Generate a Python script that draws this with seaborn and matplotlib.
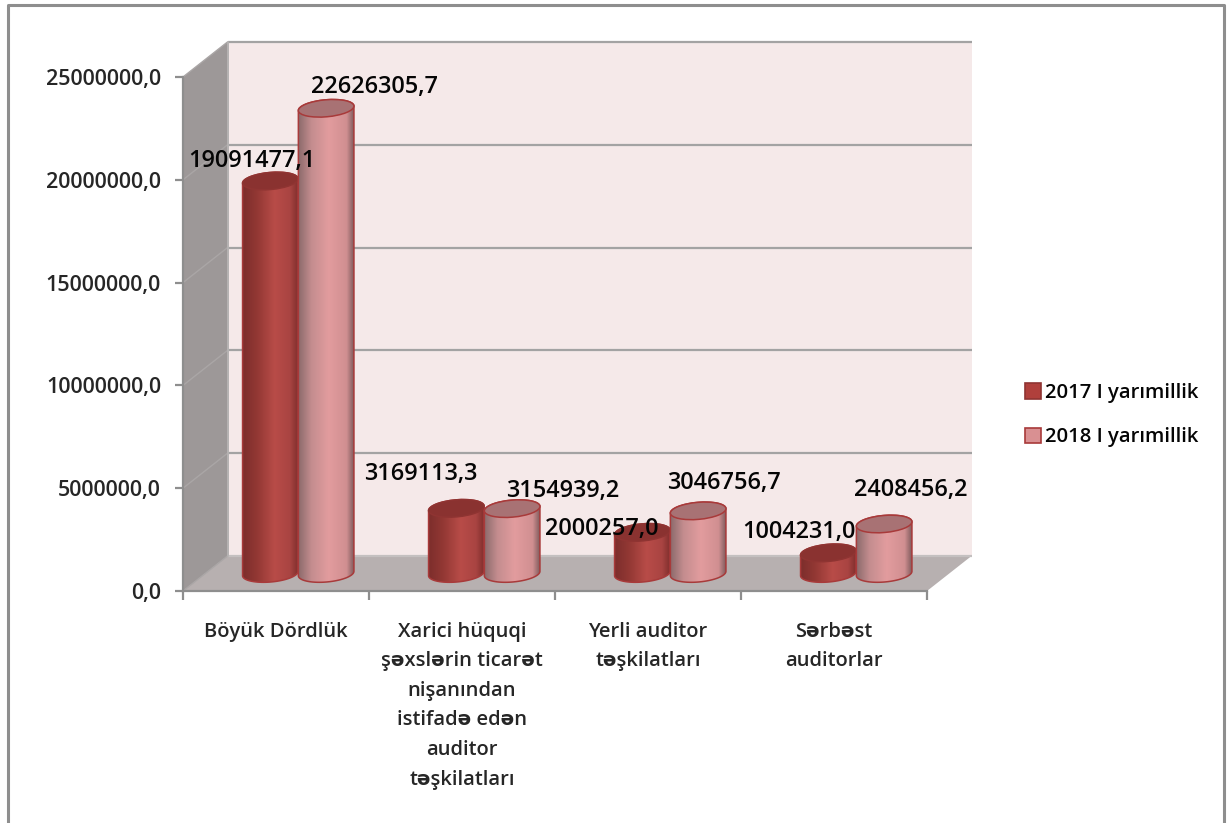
import numpy as np
import pandas as pd
import seaborn as sns
import matplotlib
matplotlib.use("Agg")
import matplotlib.pyplot as plt
from matplotlib.patches import Ellipse, Patch, PathPatch, Polygon, Rectangle
from matplotlib.path import Path
from matplotlib.lines import Line2D
from matplotlib.colors import LinearSegmentedColormap
from matplotlib.transforms import Affine2D, IdentityTransform

categories = ["Böyük Dördlük",
              "Xarici hüquqi\nşəxslərin ticarət\nnişanından\nistifadə edən\nauditor\ntəşkilatları",
              "Yerli auditor\ntəşkilatları",
              "Sərbəst\nauditorlar"]
series_names = ["2017 I yarımillik", "2018 I yarımillik"]
values_2017 = [19091477.1, 3169113.3, 2000257.0, 1004231.0]
values_2018 = [22626305.7, 3154939.2, 3046756.7, 2408456.2]
y_ticks = [0, 5000000, 10000000, 15000000, 20000000, 25000000]

# layout (pixel) helpers
W, H = 1227, 823
AX_L, AX_R, AX_T, AX_B = 183, 927, 77, 591
DX, DY = 44.5, 35
ELL_B, ELL_ANGLE = 8.5, 5.0
# offset of every value label from the top of its cylinder, (bar, group) order
LABEL_OFFSETS = {0: [(-18, 19.5), (-36, 34), (-41, 3), (-29, 21)],
                 1: [(48, 21), (51, 17.5), (26, 28), (27, 33.5)]}

FONT = "Open Sans"
GRAY = "#8e8e8e"
sns.set_theme(style="white")
plt.rcParams["font.family"] = [FONT, "DejaVu Sans"]
plt.rcParams["text.color"] = "#050505"

fig = plt.figure(figsize=(W / 100, H / 100), dpi=100, facecolor="white")
ax = fig.add_axes([AX_L / W, 1 - AX_B / H, (AX_R - AX_L) / W, (AX_B - AX_T) / H])

df = pd.DataFrame({
    "category": categories * 2,
    "period": [series_names[0]] * 4 + [series_names[1]] * 4,
    "value": values_2017 + values_2018,
})
sns.barplot(data=df, x="category", y="value", hue="period", order=categories,
            hue_order=series_names, width=0.6, gap=0, errorbar=None, legend=False,
            palette=["#b54a46", "#d99092"], ax=ax)

ax.set_xlim(-0.5, 3.5)
ax.set_ylim(0, 25000000)
ax.set_xlabel("")
ax.set_ylabel("")
ax.patch.set_visible(False)

# the bars seaborn drew, taken before anything else joins the axes
bars = sorted([b for b in ax.patches if b.get_height() > 0], key=lambda b: b.get_x())

# Walls and floor
depth = ax.transData + Affine2D().translate(DX, DY)
half = ax.transData + Affine2D().translate(DX / 2, DY / 2)
x0, x1 = ax.get_xlim()
y0, y1 = ax.get_ylim()
to_px = ax.transData.transform
corner_ll, corner_lr, corner_ul = to_px((x0, y0)), to_px((x1, y0)), to_px((x0, y1))
shift = np.array([DX, DY])
ident = IdentityTransform()

wall = "#f5e9e9"
ax.add_artist(Rectangle((x0, y0), x1 - x0, y1 - y0, transform=depth, fc=wall, ec="none",
                        zorder=0.5, clip_on=False))
ax.add_artist(Polygon([corner_ll, corner_lr, corner_lr + shift, corner_ll + shift],
                      transform=ident, fc="#b7b0b0", ec="none", zorder=0.6, clip_on=False))
ax.add_artist(Polygon([corner_ll, corner_ul, corner_ul + shift, corner_ll + shift],
                      transform=ident, fc="#9d9898", ec="none", zorder=0.6, clip_on=False))
for t in y_ticks:
    ax.plot([x0, x1], [t, t], transform=depth, color="#a3a3a3" if t else "#c4c0c0",
            lw=1.6, zorder=0.8, clip_on=False, solid_capstyle="butt")
    p = to_px((x0, t))
    ax.plot([p[0], p[0] + DX], [p[1], p[1] + DY], transform=ident, color="#aaa6a6",
            lw=1.0, zorder=0.8, clip_on=False)
back = to_px((x0, y0)) + shift
ax.plot([back[0], back[0]], [back[1], back[1] + (corner_ul[1] - corner_ll[1])], transform=ident,
        color="#b5b2b2", lw=1.4, zorder=0.85, clip_on=False)

# Cylinders, built on the bars seaborn drew
cm_dark = LinearSegmentedColormap.from_list("d", [(0, "#7a2d2b"), (0.28, "#933834"), (0.58, "#b84c48"),
                                                  (0.85, "#a94442"), (1, "#7d2d2b")])
cm_pale = LinearSegmentedColormap.from_list("p", [(0, "#866768"), (0.25, "#c48d8f"), (0.55, "#e29c9e"),
                                                  (0.86, "#d08f91"), (1, "#755556")])
n_group = len(categories)
th = np.deg2rad(ELL_ANGLE)
for i, b in enumerate(bars):
    is_2018 = b.get_height() in values_2018
    z = 10 + i
    bx, bw, bh = b.get_x(), b.get_width(), b.get_height()
    b.set_transform(half)
    b.set_zorder(z)
    b.set_edgecolor("none")
    top = np.array(half.transform((bx + bw / 2, bh)))
    bot = np.array(half.transform((bx + bw / 2, 0)))
    a = (half.transform((bx + bw, 0))[0] - half.transform((bx, 0))[0]) / 2

    def arc(c, t):
        return np.column_stack([c[0] + a * np.cos(t) * np.cos(th) - ELL_B * np.sin(t) * np.sin(th),
                                c[1] + a * np.cos(t) * np.sin(th) + ELL_B * np.sin(t) * np.cos(th)])
    outline = np.vstack([arc(bot, np.linspace(np.pi, 2 * np.pi, 40)),
                         arc(top, np.linspace(0, np.pi, 40))])
    path = Path(np.vstack([outline, outline[:1]]), closed=True)
    b.set_clip_path(path, ident)

    inv = ax.transData.inverted()
    (ex0, ey0), (ex1, ey1) = inv.transform([(top[0] - a - 1, bot[1] - ELL_B - 4),
                                            (top[0] + a + 1, top[1] + ELL_B + 4)])
    im = ax.imshow(np.linspace(0, 1, 128)[None, :], extent=(ex0, ex1, ey0, ey1), aspect="auto",
                   cmap=cm_pale if is_2018 else cm_dark, zorder=z + 0.1, interpolation="bilinear")
    im.set_clip_path(path, ident)
    ax.add_artist(PathPatch(path, transform=ident, fc="none", ec="#a83a3a", lw=1.1, zorder=z + 0.2))
    ax.add_artist(Ellipse(tuple(top), 2 * a, 2 * ELL_B, angle=ELL_ANGLE, transform=ident,
                          fc="#a87274" if is_2018 else "#8a3230",
                          ec="#a83a3a" if is_2018 else "#8f3432", lw=1.1, zorder=z + 0.3))

ax.set_xlim(x0, x1)
ax.set_ylim(y0, y1)

# Value labels
for s, vals in enumerate([values_2017, values_2018]):
    group_bars = [bars[2 * g + s] for g in range(n_group)]
    for b, v, off in zip(group_bars, vals, LABEL_OFFSETS[s]):
        p = half.transform((b.get_x() + b.get_width() / 2, v))
        ax.text(p[0] + off[0], p[1] + off[1], f"{v:.1f}".replace(".", ","), transform=ident,
                ha="center", va="center", fontsize=16.9, fontweight="semibold", zorder=60)

# Axes
for side in ["top", "right"]:
    ax.spines[side].set_visible(False)
for side in ["left", "bottom"]:
    ax.spines[side].set_color(GRAY)
    ax.spines[side].set_linewidth(1.6)
    ax.spines[side].set_zorder(5)
ax.set_yticks(y_ticks)
ax.set_yticklabels([f"{t:.1f}".replace(".", ",") for t in y_ticks], fontsize=15.5, fontweight="semibold")
ax.tick_params(axis="y", length=5.8, width=1.6, color=GRAY, pad=10, left=True)
ax.set_xticks(range(n_group))
ax.set_xticklabels(categories, fontsize=14.5, fontweight="semibold", linespacing=1.64)
ax.tick_params(axis="x", which="major", length=0, pad=22)
ax.set_xticks(np.arange(n_group + 1) - 0.5, minor=True)
ax.tick_params(axis="x", which="minor", length=6.5, width=1.6, color=GRAY, bottom=True)

# Legend
handles = [Patch(fc="#b0403c", ec="#8f3432", lw=1.2), Patch(fc="#d99092", ec="#a83a3a", lw=1.2)]
fig.legend(handles, series_names, loc="upper left", bbox_to_anchor=(1025 / W, 1 - 383 / H),
           frameon=False, borderpad=0, borderaxespad=0, labelspacing=1.2,
           handlelength=0.8, handleheight=0.8, handletextpad=0.2,
           prop={"family": FONT, "size": 14.6, "weight": "semibold"})

# Outer chart frame (open at the bottom of the crop)
fig.add_artist(Line2D([8 / W, 8 / W, 1224 / W, 1224 / W], [0, 1 - 5 / H, 1 - 5 / H, 0],
                      transform=fig.transFigure, color=GRAY, lw=2.2))

fig.savefig("out.png", dpi=100, facecolor="white")
